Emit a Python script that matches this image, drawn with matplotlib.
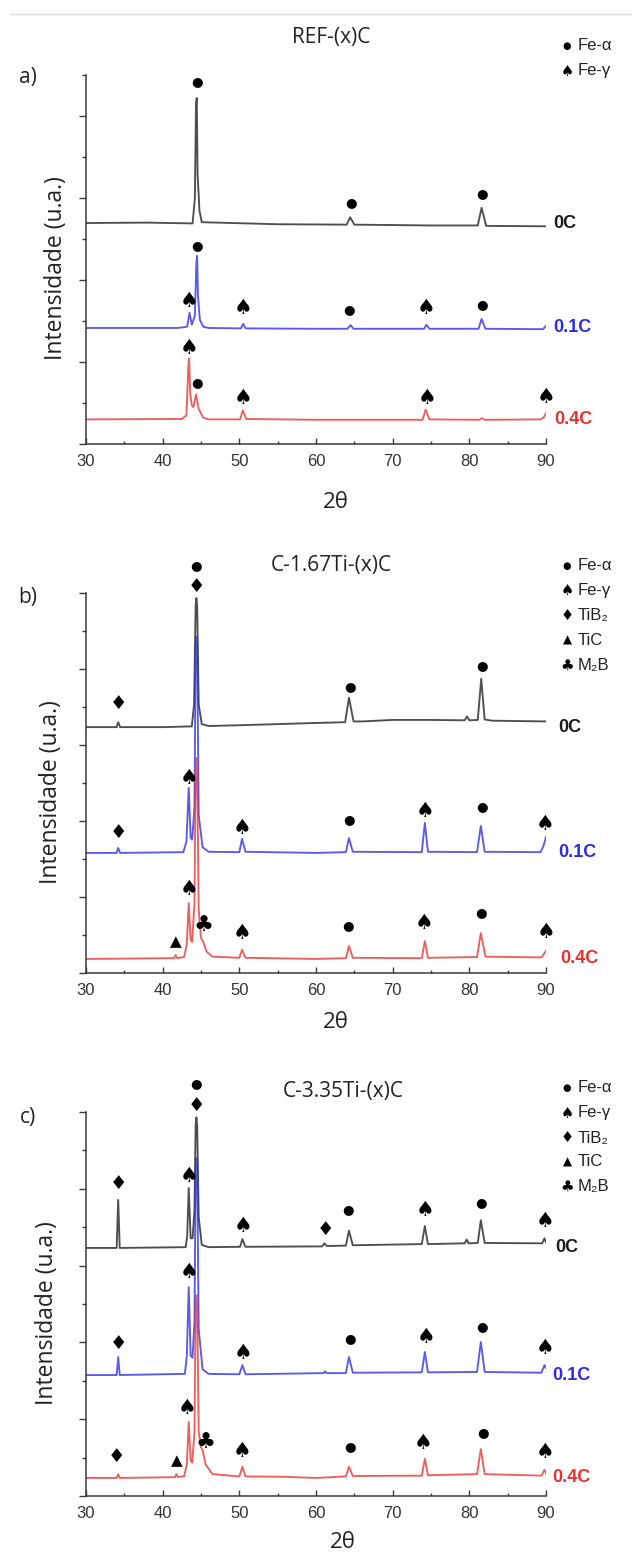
import matplotlib
matplotlib.use("Agg")
import matplotlib.pyplot as plt
from matplotlib.lines import Line2D
from matplotlib.ticker import MultipleLocator, NullFormatter

W, H = 632, 1557
SANS = ["Liberation Sans", "DejaVu Sans"]
HUM = ["Open Sans", "DejaVu Sans"]
SYM = ["DejaVu Sans"]

COLORS = {"0C": "#1c1c1c", "0.1C": "#2b2be6", "0.4C": "#e8322e"}

# ── Diffractograms: (2theta, intensity above the series baseline) ───────────
ref_0C = [(30, 0.00), (38, 0.01), (43.9, -0.01), (44.2, 0.6), (44.35, 2.9), (44.45, 3.05),
          (44.55, 1.2), (44.8, 0.3), (45.1, 0.02), (55, -0.03), (64.0, -0.04), (64.45, 0.14),
          (65.0, -0.04), (75, -0.06), (81.1, -0.06), (81.6, 0.37), (82.2, -0.07), (90, -0.08)]
ref_01C = [(30, 0.0), (42, 0.0), (43.2, 0.03), (43.5, 0.37), (43.8, 0.08), (44.2, 0.3),
           (44.4, 1.6), (44.5, 1.76), (44.6, 0.8), (44.85, 0.2), (45.3, 0.03), (46, 0.0),
           (50.2, -0.01), (50.5, 0.1), (50.8, -0.01), (60, -0.02), (64.1, -0.02), (64.5, 0.07),
           (64.9, -0.02), (74.1, -0.02), (74.4, 0.08), (74.8, -0.02), (81.2, -0.02), (81.6, 0.22),
           (82.1, -0.02), (89.6, -0.03), (90, 0.05)]
ref_04C = [(30, 0.0), (42.5, 0.01), (43.1, 0.1), (43.35, 1.3), (43.45, 1.49), (43.6, 0.6),
           (43.8, 0.35), (44.0, 0.3), (44.35, 0.61), (44.7, 0.25), (45.3, 0.04), (46, 0.0),
           (50.1, 0.0), (50.45, 0.22), (50.9, 0.01), (60, -0.01), (73.9, -0.01), (74.3, 0.24),
           (74.8, 0.0), (81.3, -0.01), (81.6, 0.03), (82, -0.01), (89.3, 0.0), (89.7, 0.05),
           (90, 0.15)]

ti167_0C = [(30, 0.0), (34.0, 0.0), (34.2, 0.13), (34.45, 0.0), (40, 0.0), (43.8, 0.02),
            (44.1, 0.6), (44.3, 3.2), (44.4, 3.4), (44.5, 3.2), (44.7, 0.6), (45.1, 0.08),
            (46, 0.03), (50, 0.05), (55, 0.08), (60, 0.11), (63.8, 0.13), (64.3, 0.77),
            (64.9, 0.15), (66, 0.15), (70, 0.19), (75, 0.19), (79.4, 0.18), (79.7, 0.28),
            (80, 0.18), (81.1, 0.19), (81.55, 1.27), (82.0, 0.2), (83, 0.17), (90, 0.15)]
ti167_01C = [(30, 0.0), (34.0, 0.0), (34.2, 0.13), (34.45, 0.0), (42.7, 0.02), (43.1, 0.3),
             (43.4, 1.71), (43.65, 0.4), (43.85, 0.35), (44.15, 1.2), (44.3, 5.4), (44.4, 5.68),
             (44.5, 5.4), (44.7, 1.0), (45.2, 0.15), (46, 0.03), (50.0, 0.02), (50.35, 0.37),
             (50.8, 0.03), (60, 0.0), (63.9, 0.02), (64.3, 0.39), (64.8, 0.03), (73.8, 0.02),
             (74.2, 0.79), (74.6, 0.03), (81.0, 0.02), (81.5, 0.71), (82.0, 0.03), (89.3, 0.02),
             (89.7, 0.2), (90, 0.42)]
ti167_04C = [(30, 0.0), (41.5, 0.02), (41.7, 0.1), (41.9, 0.02), (42.8, 0.05), (43.15, 0.4),
             (43.4, 1.47), (43.65, 0.5), (43.85, 0.45), (44.15, 1.5), (44.3, 5.0), (44.4, 5.29),
             (44.5, 5.0), (44.7, 1.3), (45.0, 0.55), (45.3, 0.45), (45.7, 0.2), (46.5, 0.06),
             (50.0, 0.03), (50.35, 0.24), (50.8, 0.03), (60, 0.0), (63.9, 0.02), (64.3, 0.34),
             (64.8, 0.03), (73.8, 0.02), (74.2, 0.47), (74.6, 0.03), (81.0, 0.05), (81.5, 0.68),
             (82.1, 0.06), (89.4, 0.04), (89.8, 0.15), (90, 0.21)]

ti335_0C = [(30, 0.0), (34.0, 0.0), (34.2, 1.25), (34.4, 0.0), (43.0, 0.02), (43.2, 0.3),
            (43.4, 1.56), (43.65, 0.25), (43.9, 0.25), (44.15, 1.0), (44.3, 3.2), (44.4, 3.4),
            (44.5, 3.2), (44.7, 0.8), (45.1, 0.08), (46, 0.02), (50.1, 0.03), (50.4, 0.23),
            (50.8, 0.03), (60.8, 0.04), (61.1, 0.12), (61.4, 0.05), (63.9, 0.06), (64.3, 0.45),
            (64.8, 0.07), (73.8, 0.1), (74.2, 0.57), (74.6, 0.1), (79.4, 0.12), (79.65, 0.22),
            (79.9, 0.12), (81.1, 0.13), (81.5, 0.72), (82.0, 0.13), (89.5, 0.12), (89.8, 0.25),
            (90, 0.15)]
ti335_01C = [(30, 0.0), (34.0, 0.0), (34.2, 0.47), (34.4, 0.0), (42.9, 0.03), (43.15, 0.5),
             (43.4, 2.29), (43.65, 0.5), (43.9, 0.45), (44.15, 1.4), (44.3, 5.4), (44.4, 5.65),
             (44.5, 5.4), (44.7, 1.2), (45.2, 0.15), (46, 0.03), (50.0, 0.02), (50.4, 0.26),
             (50.8, 0.02), (61, 0.05), (61.2, 0.1), (61.4, 0.05), (63.9, 0.05), (64.3, 0.47),
             (64.8, 0.06), (73.8, 0.07), (74.2, 0.6), (74.6, 0.07), (81.0, 0.08), (81.5, 0.86),
             (82.0, 0.08), (89.4, 0.06), (89.8, 0.26), (90, 0.18)]
ti335_04C = [(30, 0.0), (34.0, 0.0), (34.2, 0.1), (34.4, 0.0), (41.6, 0.02), (41.8, 0.1),
             (42.0, 0.02), (42.8, 0.05), (43.15, 0.35), (43.4, 1.46), (43.65, 0.45), (43.85, 0.4),
             (44.15, 1.2), (44.3, 4.5), (44.4, 4.76), (44.5, 4.5), (44.7, 1.2), (45.0, 0.8),
             (45.2, 0.73), (45.6, 0.35), (46.5, 0.1), (50.0, 0.04), (50.4, 0.29), (50.8, 0.04),
             (56, 0.03), (60, 0.0), (63.9, 0.04), (64.3, 0.29), (64.8, 0.05), (73.8, 0.06),
             (74.2, 0.5), (74.6, 0.07), (81.0, 0.1), (81.5, 0.75), (82.0, 0.1), (89.4, 0.06),
             (89.8, 0.21), (90, 0.12)]

# phase markers: (symbol, 2theta, height on the stacked axis)
ref_marks = [("●", 44.45, 8.83), ("●", 64.5, 5.88), ("●", 81.7, 6.10),
             ("●", 44.5, 4.85), ("♠", 43.45, 3.49), ("♠", 50.55, 3.32), ("●", 64.3, 3.27),
             ("♠", 74.4, 3.32), ("●", 81.6, 3.41),
             ("♠", 43.4, 2.34), ("●", 44.5, 1.51), ("♠", 50.5, 1.12), ("♠", 74.5, 1.12),
             ("♠", 89.95, 1.15)]
ti167_marks = [("♦", 34.3, 7.08), ("♦", 44.4, 10.16), ("●", 44.4, 10.71), ("●", 64.4, 7.55),
               ("●", 81.7, 8.08),
               ("♦", 34.2, 3.71), ("♠", 43.5, 5.13), ("♠", 50.4, 3.82), ("●", 64.3, 4.03),
               ("♠", 74.2, 4.26), ("●", 81.6, 4.37), ("♠", 89.9, 3.92),
               ("▲", 41.7, 0.82), ("♠", 43.4, 2.21), ("♣", 45.3, 1.24), ("♠", 50.4, 1.05),
               ("●", 64.2, 1.24), ("♠", 74.1, 1.32), ("●", 81.5, 1.58), ("♠", 90.0, 1.08)]
ti335_marks = [("♦", 34.2, 8.13), ("♠", 43.5, 8.33), ("♦", 44.4, 10.16), ("●", 44.4, 10.75),
               ("♠", 50.5, 7.03), ("♦", 61.2, 6.95), ("●", 64.2, 7.45), ("♠", 74.2, 7.45),
               ("●", 81.5, 7.63), ("♠", 89.9, 7.16),
               ("♦", 34.2, 3.96), ("♠", 43.4, 5.83), ("♠", 50.5, 3.72), ("●", 64.4, 4.09),
               ("♠", 74.3, 4.14), ("●", 81.6, 4.40), ("♠", 89.9, 3.85),
               ("♦", 34.0, 1.02), ("▲", 41.9, 0.91), ("♠", 43.2, 2.29), ("♣", 45.6, 1.38),
               ("♠", 50.4, 1.17), ("●", 64.4, 1.28), ("♠", 74.0, 1.38), ("●", 81.8, 1.64),
               ("♠", 89.9, 1.15)]

phases_ab = [("●", "Fe-α"), ("♠", "Fe-γ")]
phases_ti = [("●", "Fe-α"), ("♠", "Fe-γ"), ("♦", "TiB₂"), ("▲", "TiC"), ("♣", "M₂B")]

SYM_SIZE = {"●": 9.5, "♠": 15, "♦": 14, "▲": 11, "♣": 16}
LEG_SIZE = {"●": 7, "♠": 10.5, "♦": 10.5, "▲": 8.5, "♣": 11}

panels = [
    dict(tag="a)", title="REF-(x)C", top=75, bottom=444, ymax=9,
         series=[("0C", ref_0C, 5.39), ("0.1C", ref_01C, 2.83), ("0.4C", ref_04C, 0.60)],
         label_x=[91.0, 91.0, 91.1], marks=ref_marks, legend=phases_ab,
         title_xy=(331, 38), tag_xy=(28, 78), leg_y=[46, 71], ylab_xy=(56, 268),
         xlab_xy=(336, 502)),
    dict(tag="b)", title="C-1.67Ti-(x)C", top=593, bottom=973, ymax=10,
         series=[("0C", ti167_0C, 6.47), ("0.1C", ti167_01C, 3.16), ("0.4C", ti167_04C, 0.37)],
         label_x=[91.6, 91.6, 91.9], marks=ti167_marks, legend=phases_ti,
         title_xy=(331, 565), tag_xy=(28, 598), leg_y=[566, 590, 615, 640, 665],
         ylab_xy=(51, 792), xlab_xy=(336, 1022)),
    dict(tag="c)", title="C-3.35Ti-(x)C", top=1112, bottom=1496, ymax=10,
         series=[("0C", ti335_0C, 6.46), ("0.1C", ti335_01C, 3.15), ("0.4C", ti335_04C, 0.47)],
         label_x=[91.2, 90.8, 90.8], marks=ti335_marks, legend=phases_ti,
         title_xy=(343, 1092), tag_xy=(28, 1118), leg_y=[1088, 1113, 1138, 1162, 1186],
         ylab_xy=(47, 1313), xlab_xy=(343, 1543)),
]

fig = plt.figure(figsize=(W / 100, H / 100), dpi=100)


def fx(x):
    return x / W


def fy(y):
    return 1 - y / H


# thin rule across the page head
fig.add_artist(Line2D([fx(10), fx(632)], [fy(14), fy(14)], color="#dcdcdc", lw=1.0))

for p in panels:
    ax = fig.add_axes([fx(86), fy(p["bottom"]), fx(546) - fx(86), (p["bottom"] - p["top"]) / H])
    ax.set_xlim(30, 90)
    ax.set_ylim(0, p["ymax"])
    for sp in ("top", "right"):
        ax.spines[sp].set_visible(False)
    for sp in ("left", "bottom"):
        ax.spines[sp].set_color("#3a3a3a")
        ax.spines[sp].set_linewidth(1.1)

    ax.xaxis.set_major_locator(MultipleLocator(10))
    ax.xaxis.set_minor_locator(MultipleLocator(5))
    ax.yaxis.set_major_locator(MultipleLocator(2))
    ax.yaxis.set_minor_locator(MultipleLocator(1))
    ax.yaxis.set_major_formatter(NullFormatter())
    ax.tick_params(axis="x", which="major", direction="in", length=4, width=1.0,
                   color="#3a3a3a", pad=7, labelsize=12, labelcolor="#333333")
    ax.tick_params(axis="x", which="minor", direction="in", length=2.5, width=1.0,
                   color="#3a3a3a")
    ax.tick_params(axis="y", which="major", direction="out", length=5, width=1.0,
                   color="#3a3a3a")
    ax.tick_params(axis="y", which="minor", direction="out", length=3, width=1.0,
                   color="#3a3a3a")
    for lab in ax.get_xticklabels():
        lab.set_family(SANS)

    for (name, pts, base), lx in zip(p["series"], p["label_x"]):
        xs = [q[0] for q in pts]
        ys = [q[1] + base for q in pts]
        ax.plot(xs, ys, color=COLORS[name], lw=1.35, alpha=0.78, solid_joinstyle="round")
        ax.text(lx, base, name, color=COLORS[name], fontsize=13, fontweight="bold",
                family=SANS, ha="left", va="center", clip_on=False)

    for sym, x, y in p["marks"]:
        ax.text(x, y, sym, fontsize=SYM_SIZE[sym], family=SYM, ha="center", va="center",
                color="black", clip_on=False)

    for (sym, name), ly in zip(p["legend"], p["leg_y"]):
        fig.text(fx(567), fy(ly), sym, fontsize=LEG_SIZE[sym], family=SYM,
                 ha="center", va="center", color="black")
        fig.text(fx(578), fy(ly), name, fontsize=12, family=SANS,
                 ha="left", va="center", color="#222222")

    fig.text(fx(p["title_xy"][0]), fy(p["title_xy"][1]), p["title"], fontsize=15,
             family=HUM, ha="center", va="center", color="#222222")
    fig.text(fx(p["tag_xy"][0]), fy(p["tag_xy"][1]), p["tag"], fontsize=15,
             family=HUM, ha="center", va="center", color="#222222")
    fig.text(fx(p["ylab_xy"][0]), fy(p["ylab_xy"][1]), "Intensidade (u.a.)", fontsize=16.5,
             family=HUM, rotation=90, ha="center", va="center", color="#222222")
    fig.text(fx(p["xlab_xy"][0]), fy(p["xlab_xy"][1]), "2θ", fontsize=16,
             family=HUM, ha="center", va="center", color="#222222")

fig.savefig("out.png", dpi=100)
